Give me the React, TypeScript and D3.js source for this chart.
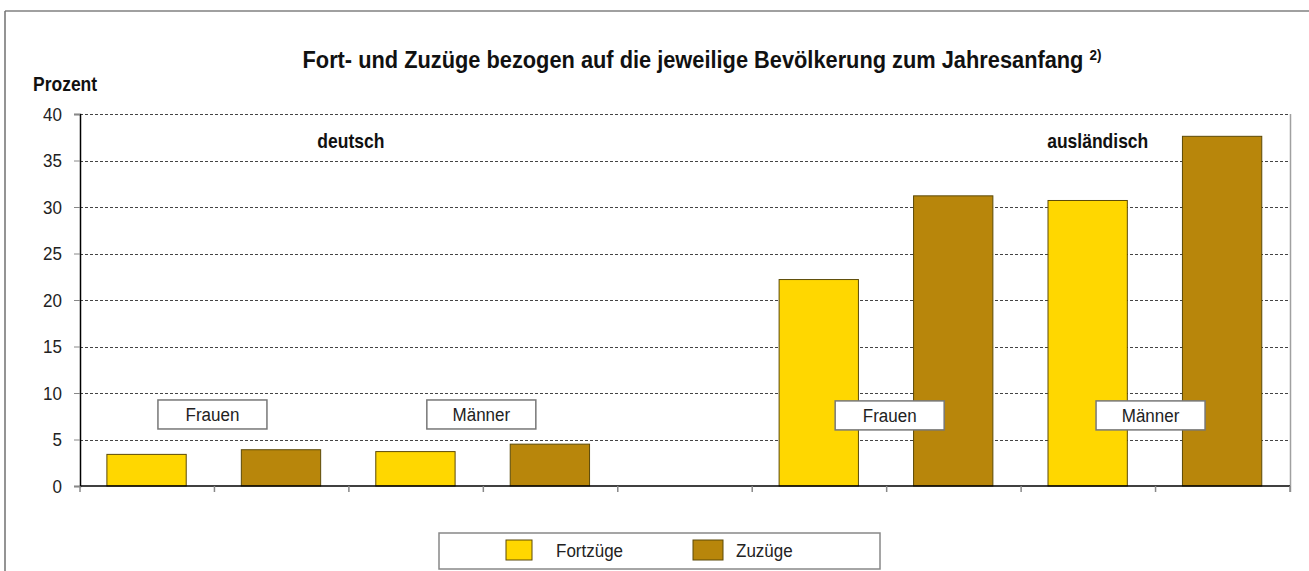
import React, { useEffect, useRef } from 'react';
import * as d3 from 'd3';

// data
const categories = ['dF1', 'dF2', 'dM1', 'dM2', 'gap', 'aF1', 'aF2', 'aM1', 'aM2'];
const fortzuege = [3.4, 3.7, 22.2, 30.7];
const zuzuege = [3.9, 4.5, 31.2, 37.6];
const fortCats = ['dF1', 'dM1', 'aF1', 'aM1'];
const zuCats = ['dF2', 'dM2', 'aF2', 'aM2'];
const yTicks = [0, 5, 10, 15, 20, 25, 30, 35, 40];
const boxLabels = ['Frauen', 'Männer', 'Frauen', 'Männer'];
const groupLabels = ['deutsch', 'ausländisch'];
const seriesNames = ['Fortzüge', 'Zuzüge'];

const W = 1309;
const H = 571;
const FONT = '"Liberation Sans", Arial, sans-serif';
const YELLOW = '#FFD700';
const BROWN = '#B8860B';
const STRETCH = 1.13; // reference font is a little taller than it is wide

export default function App() {
  const ref = useRef<SVGSVGElement>(null);

  useEffect(() => {
    const svg = d3.select(ref.current);
    svg.selectAll('*').remove();

    const margin = { top: 114, right: 19, bottom: 85, left: 80 };
    const w = W - margin.left - margin.right;
    const h = H - margin.top - margin.bottom;

    const x = d3.scaleBand().domain(categories).range([0, w]).padding(0);
    const y = d3.scaleLinear().domain([0, 40]).range([h, 0]);
    const bw = x.bandwidth();

    // text placed at (tx, ty) baseline, slightly stretched vertically
    const label = (parent: any, tx: number, ty: number) =>
      parent.append('text')
        .attr('transform', `translate(${tx}, ${ty}) scale(1, ${STRETCH})`)
        .attr('font-family', FONT);

    // outer frame
    svg.append('line').attr('x1', 5).attr('x2', W).attr('y1', 11).attr('y2', 11)
      .attr('stroke', '#a0a0a0').attr('stroke-width', 2);
    svg.append('line').attr('x1', 5).attr('x2', 5).attr('y1', 11).attr('y2', H)
      .attr('stroke', '#707070').attr('stroke-width', 1.5);

    // title
    const title = label(svg, 702, 68)
      .attr('text-anchor', 'middle')
      .attr('font-weight', 'bold').attr('font-size', 21.8)
      .attr('fill', '#111');
    title.append('tspan').text('Fort- und Zuzüge bezogen auf die jeweilige Bevölkerung zum Jahresanfang ');
    title.append('tspan').attr('font-size', 13.5).attr('dy', -7).text('2)');

    label(svg, 33, 91)
      .attr('font-weight', 'bold').attr('font-size', 17.5)
      .attr('fill', '#111')
      .text('Prozent');

    const main = svg.append('g').attr('transform', `translate(${margin.left}, ${margin.top})`);

    // grid
    main.append('g').selectAll('line').data(yTicks.filter(d => d > 0))
      .join('line')
      .attr('x1', 0).attr('x2', w)
      .attr('y1', d => Math.round(y(d)) + 0.5).attr('y2', d => Math.round(y(d)) + 0.5)
      .attr('stroke', '#444').attr('stroke-width', 1).attr('stroke-dasharray', '3,2');

    // right border
    main.append('line').attr('x1', w + 0.5).attr('x2', w + 0.5).attr('y1', 0).attr('y2', h + 6)
      .attr('stroke', '#a0a0a0').attr('stroke-width', 1.5);

    // y axis
    const yAxis = main.append('g')
      .call(d3.axisLeft(y).tickValues(yTicks).tickSize(6).tickPadding(12));
    yAxis.select('.domain').attr('stroke', '#000').attr('stroke-width', 1.5);
    yAxis.selectAll('.tick line').attr('stroke', '#888');
    yAxis.selectAll('text')
      .attr('transform', `scale(1, ${STRETCH})`)
      .attr('font-family', FONT).attr('font-size', 17).attr('fill', '#222');

    // bars
    const bar = (cats: string[], vals: number[], color: string) =>
      main.append('g').selectAll('rect').data(vals)
        .join('rect')
        .attr('x', (_, i) => (x(cats[i]) as number) + bw * 0.2)
        .attr('width', bw * 0.59)
        .attr('y', d => y(d))
        .attr('height', d => h - y(d))
        .attr('fill', color)
        .attr('stroke', '#5c4a08').attr('stroke-width', 1);
    bar(fortCats, fortzuege, YELLOW);
    bar(zuCats, zuzuege, BROWN);

    // x axis
    const xAxisG = main.append('g').attr('transform', `translate(0, ${h})`);
    xAxisG.append('line').attr('x1', 0).attr('x2', w).attr('y1', 0).attr('y2', 0)
      .attr('stroke', '#000').attr('stroke-width', 1.5);
    xAxisG.selectAll('.xt').data([...categories.map(c => x(c) as number), w])
      .join('line')
      .attr('x1', d => d).attr('x2', d => d).attr('y1', 0).attr('y2', 6)
      .attr('stroke', '#888').attr('stroke-width', 1.5);

    // group labels
    const groupX = [x('dF2') as number + bw + 2, x('aM1') as number + bw * 0.57];
    groupLabels.forEach((t, i) => {
      label(main, groupX[i], y(36.3))
        .attr('text-anchor', 'middle')
        .attr('font-weight', 'bold').attr('font-size', 17.5)
        .attr('fill', '#111')
        .text(t);
    });

    // box labels
    const boxW = 109;
    const boxH = 29;
    const boxShift = [-2, -2, 3, -5];
    const boxG = main.append('g').selectAll('g').data(boxLabels)
      .join('g')
      .attr('transform', (_, i) =>
        `translate(${(x(zuCats[i]) as number) - boxW / 2 + boxShift[i]}, ${y(i < 2 ? 9.25 : 9.15)})`);
    boxG.append('rect')
      .attr('width', boxW).attr('height', boxH)
      .attr('fill', '#fff').attr('stroke', '#777').attr('stroke-width', 1.5);
    boxG.each(function (d) {
      label(d3.select(this), boxW / 2, boxH / 2 + 6.5)
        .attr('text-anchor', 'middle')
        .attr('font-size', 17).attr('fill', '#222')
        .text(d);
    });

    // legend
    const lg = svg.append('g').attr('transform', 'translate(439, 533)');
    lg.append('rect').attr('width', 441).attr('height', 36)
      .attr('fill', '#fff').attr('stroke', '#888').attr('stroke-width', 1.5);
    const items = lg.selectAll('.li').data(seriesNames)
      .join('g')
      .attr('transform', (_, i) => `translate(${i === 0 ? 67 : 254}, 7)`);
    items.append('rect')
      .attr('width', (_, i) => (i === 0 ? 26 : 30)).attr('height', 20)
      .attr('fill', (_, i) => (i === 0 ? YELLOW : BROWN))
      .attr('stroke', '#5c4a08').attr('stroke-width', 1);
    items.each(function (d, i) {
      label(d3.select(this), i === 0 ? 50 : 43, 16.5)
        .attr('font-size', 17).attr('fill', '#222')
        .text(d);
    });
  }, []);

  return (
    <svg
      ref={ref}
      width={W}
      height={H}
      style={{ position: 'absolute', left: 0, top: 0, background: '#fff' }}
    />
  );
}
